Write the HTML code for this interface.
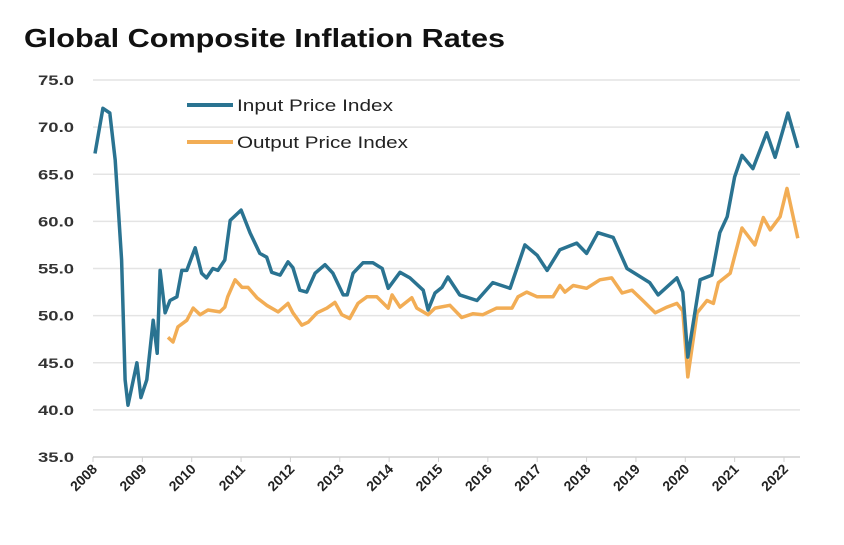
<!DOCTYPE html>
<html><head><meta charset="utf-8"><style>
body{margin:0;background:#fff;width:844px;height:540px;overflow:hidden;font-family:"Liberation Sans",sans-serif}
</style></head><body>
<svg width="844" height="540" xmlns="http://www.w3.org/2000/svg">
<text x="24" y="47" font-size="26" font-weight="bold" fill="#111" textLength="481" lengthAdjust="spacingAndGlyphs">Global Composite Inflation Rates</text>
<g id="grid"></g>
<g id="yt"></g>
<g id="xt"></g>
<g id="lines"></g>
<g>
<g><line x1="187" y1="105" x2="233" y2="105" stroke="#2a7391" stroke-width="4"/><text x="237" y="111" font-size="17" fill="#222" textLength="156" lengthAdjust="spacingAndGlyphs">Input Price Index</text></g>
<g><line x1="187" y1="142" x2="233" y2="142" stroke="#f2ad55" stroke-width="4"/><text x="237" y="148" font-size="17" fill="#222" textLength="171" lengthAdjust="spacingAndGlyphs">Output Price Index</text></g>
</g>
</svg>
<script>
const yTicks=[35,40,45,50,55,60,65,70,75];
const years=[2008,2009,2010,2011,2012,2013,2014,2015,2016,2017,2018,2019,2020,2021,2022];
const inputDates=[2008.04,2008.2,2008.34,2008.45,2008.58,2008.65,2008.71,2008.89,2008.97,2009.09,2009.22,2009.3,2009.36,2009.46,2009.56,2009.7,2009.8,2009.9,2010.07,2010.2,2010.3,2010.43,2010.53,2010.67,2010.78,2011.0,2011.18,2011.38,2011.52,2011.62,2011.79,2011.95,2012.05,2012.19,2012.33,2012.5,2012.7,2012.86,2013.07,2013.15,2013.27,2013.47,2013.67,2013.86,2013.98,2014.22,2014.42,2014.69,2014.79,2014.93,2015.07,2015.19,2015.43,2015.78,2016.1,2016.45,2016.75,2017.0,2017.2,2017.46,2017.8,2018.0,2018.23,2018.54,2018.82,2019.28,2019.45,2019.83,2019.95,2020.05,2020.3,2020.54,2020.7,2020.85,2021.0,2021.15,2021.37,2021.65,2021.82,2022.08,2022.28];
const inputValues=[67.2,72,71.5,66.5,55.9,43.2,40.5,45,41.3,43.2,49.5,46,54.8,50.3,51.6,52,54.8,54.8,57.2,54.5,54,55,54.8,55.9,60.1,61.2,58.8,56.6,56.2,54.6,54.3,55.7,55.1,52.7,52.5,54.5,55.4,54.5,52.2,52.2,54.5,55.6,55.6,55,52.9,54.6,54,52.7,50.6,52.4,53,54.1,52.2,51.6,53.5,52.9,57.5,56.4,54.8,57,57.7,56.6,58.8,58.3,55,53.5,52.2,54,52.5,45.6,53.8,54.3,58.8,60.5,64.7,67,65.6,69.4,66.8,71.5,67.8];
const outputDates=[2009.52,2009.62,2009.72,2009.9,2010.03,2010.17,2010.33,2010.57,2010.67,2010.73,2010.88,2011.02,2011.14,2011.32,2011.52,2011.75,2011.95,2012.05,2012.23,2012.36,2012.54,2012.74,2012.9,2013.04,2013.2,2013.37,2013.55,2013.75,2013.98,2014.06,2014.22,2014.46,2014.56,2014.79,2014.93,2015.23,2015.47,2015.7,2015.9,2016.18,2016.49,2016.61,2016.79,2017.0,2017.32,2017.46,2017.56,2017.73,2018.0,2018.27,2018.51,2018.72,2018.92,2019.14,2019.39,2019.63,2019.83,2019.95,2020.05,2020.24,2020.44,2020.57,2020.67,2020.91,2021.15,2021.41,2021.58,2021.72,2021.92,2022.06,2022.28];
const outputValues=[47.7,47.2,48.8,49.5,50.8,50.1,50.6,50.4,50.9,52,53.8,53,53,51.9,51.1,50.4,51.3,50.3,49,49.3,50.3,50.8,51.4,50.1,49.7,51.3,52,52,50.8,52.2,50.9,51.9,50.8,50.1,50.8,51.1,49.8,50.2,50.1,50.8,50.8,52,52.5,52,52,53.2,52.5,53.2,52.9,53.8,54,52.4,52.7,51.6,50.3,50.9,51.3,50.5,43.5,50.3,51.6,51.3,53.5,54.5,59.3,57.5,60.4,59.1,60.5,63.5,58.2];
const NS='http://www.w3.org/2000/svg';
const X0=93,X1=784,Y0=457,Y1=80;
const xs=d=>X0+(d-2008)*(X1-X0)/14;
const ys=v=>Y0-(v-35)*(Y0-Y1)/40;
function mk(t,a,p){const e=document.createElementNS(NS,t);for(const k in a)e.setAttribute(k,a[k]);p.appendChild(e);return e;}
const grid=document.getElementById('grid'),yt=document.getElementById('yt'),xt=document.getElementById('xt'),lines=document.getElementById('lines');
yTicks.forEach(v=>{
 const l=mk('line',{x1:X0,x2:800,y1:ys(v),y2:ys(v),stroke:v===35?'#d0d0d0':'#e4e4e4','stroke-width':1.5},grid);
 
 
 const t=mk('text',{x:38,y:ys(v)+5,'font-size':14,'font-weight':'bold',fill:'#333',textLength:36,lengthAdjust:'spacingAndGlyphs'},yt);
 t.textContent=v.toFixed(1);
 
 
});
years.forEach(y=>{
 const x=xs(y);
 const tk=mk('line',{x1:x,x2:x,y1:Y0,y2:Y0+5,stroke:'#d0d0d0'},xt);
 
 
 const t=mk('text',{x:x+5,y:Y0+13,'text-anchor':'end','font-size':14,'font-weight':'bold',fill:'#222',transform:`rotate(-45 ${x+5} ${Y0+13})`},xt);
 t.textContent=y;
 
 
});
function series(d,v,c,n){
 const p=mk('polyline',{points:d.map((q,i)=>xs(q).toFixed(1)+','+ys(v[i]).toFixed(1)).join(' '),fill:'none',stroke:c,'stroke-width':3.5,'stroke-linejoin':'round'},lines);
 
 
}
series(outputDates,outputValues,'#f2ad55','output-price-line');
series(inputDates,inputValues,'#2a7391','input-price-line');
</script>
</body></html>
